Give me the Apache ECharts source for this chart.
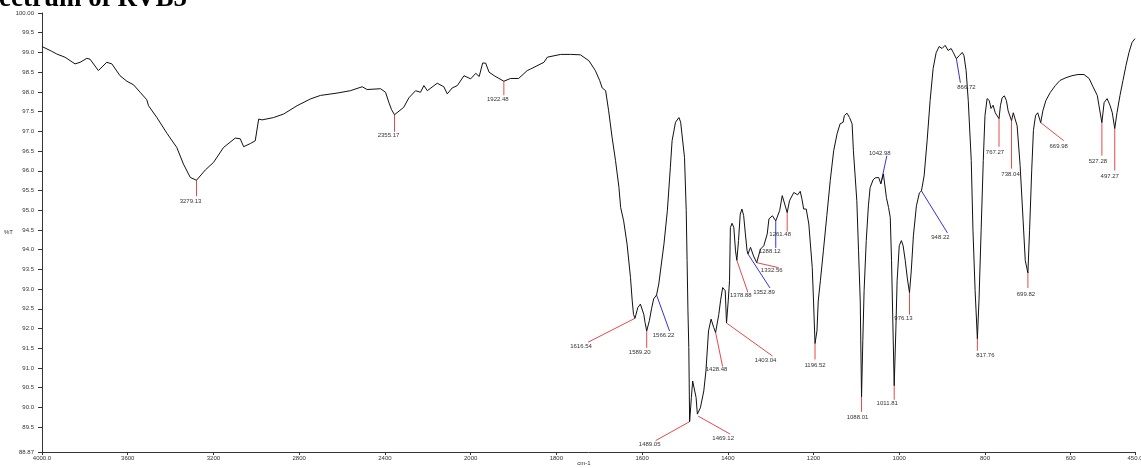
<!DOCTYPE html>
<html>
<head>
<meta charset="utf-8">
<script src="https://cdn.jsdelivr.net/npm/echarts@6/dist/echarts.min.js"></script>
<style>
  html, body { margin: 0; padding: 0; background: #fff; }
  #chart { width: 1141px; height: 468px; }
</style>
</head>
<body>
<div id="chart"></div>
<script>
// FT-IR spectrum of RVB5: wavenumber (cm-1) and transmittance (%T)
const wavenumbers = [
  4000, 3955, 3931, 3893, 3846, 3822, 3791, 3776, 3737, 3698, 3674, 3636, 3604, 3573, 3542, 3511, 3503,
  3464, 3417, 3371, 3340, 3308, 3279.13, 3238, 3200, 3153, 3098, 3075, 3059, 3028, 3020, 3005, 2989,
  2973, 2919, 2872, 2810, 2748, 2701, 2623, 2561, 2506, 2483, 2420, 2397, 2382, 2369, 2355.17, 2312,
  2288, 2257, 2234, 2218, 2202, 2156, 2125, 2109, 2086, 2062, 2031, 2000, 1988, 1980, 1972, 1965, 1957,
  1945, 1922.48, 1907, 1888, 1868, 1860, 1829, 1821, 1790, 1767, 1744, 1724, 1709, 1699, 1693, 1685,
  1678, 1670, 1662, 1654, 1650, 1643, 1635, 1627, 1623, 1620, 1616.54, 1610, 1604, 1600, 1596, 1593,
  1589.20, 1583, 1578, 1573, 1566.22, 1561, 1549, 1541, 1534, 1530, 1522, 1514, 1510, 1507, 1501, 1497,
  1495, 1493, 1491, 1489.05, 1485, 1482, 1478, 1474, 1471, 1469.12, 1464, 1456, 1451, 1445, 1439, 1433,
  1428.48, 1421, 1417, 1412, 1406, 1403.04, 1399, 1396, 1394, 1390, 1386, 1382, 1378.88, 1375, 1371,
  1367, 1363, 1359, 1355, 1352.89, 1347, 1343, 1340, 1332.56, 1327, 1324, 1316, 1308, 1304, 1296, 1292,
  1288.12, 1279, 1273, 1270, 1261.48, 1256, 1246, 1242, 1237, 1231, 1227, 1223, 1217, 1211, 1203, 1200,
  1196.52, 1192, 1189, 1184, 1177, 1169, 1161, 1153, 1145, 1138, 1131, 1128, 1122, 1116, 1110, 1107,
  1099, 1095, 1091, 1088.01, 1085, 1082, 1077, 1072, 1068, 1061, 1056, 1052, 1048, 1042.98, 1037, 1030,
  1025, 1021, 1018, 1015, 1011.81, 1008, 1005, 1000, 995, 991, 986, 981, 976.13, 972, 967, 960, 953,
  948.22, 942, 935, 928, 921, 914, 907, 900, 893, 886, 879, 874, 866.72, 860, 853, 849, 844, 839, 832,
  828, 823, 817.76, 814, 809, 804, 800, 795, 790, 786, 781, 776, 767.27, 764, 760, 755, 750, 746, 738.04,
  734, 730, 725, 718, 711, 706, 699.82, 696, 691, 687, 682, 677, 669.98, 665, 658, 648, 636, 625, 611,
  597, 583, 569, 557, 548, 538, 534, 527.28, 522, 515, 508, 503, 497.27, 492, 485, 478, 471, 464, 457, 450
];
const transmittance = [
  99.15, 99.03, 98.96, 98.88, 98.71, 98.75, 98.85, 98.83, 98.54, 98.75, 98.71, 98.41, 98.27, 98.18, 97.99, 97.80, 97.65,
  97.35, 96.95, 96.59, 96.17, 95.83, 95.76, 96.02, 96.21, 96.59, 96.83, 96.81, 96.61, 96.69, 96.64, 96.76, 97.31,
  97.29, 97.35, 97.44, 97.65, 97.82, 97.91, 97.97, 98.03, 98.13, 98.06, 98.08, 97.99, 97.74, 97.55, 97.42, 97.61,
  97.85, 98.03, 97.99, 98.16, 98.03, 98.22, 98.13, 97.95, 98.10, 98.16, 98.41, 98.33, 98.47, 98.39, 98.73, 98.73, 98.50,
  98.41, 98.27, 98.34, 98.34, 98.54, 98.58, 98.75, 98.88, 98.95, 98.95, 98.94, 98.79, 98.54, 98.29, 98.10, 98.03,
  97.52, 96.85, 96.26, 95.58, 95.07, 94.73, 94.14, 93.29, 92.70, 92.36, 92.26, 92.53, 92.62, 92.60, 92.36, 92.15,
  91.94, 92.20, 92.50, 92.75, 92.85, 93.13, 94.14, 94.99, 96.09, 96.76, 97.23, 97.35, 97.23, 96.93, 96.34, 94.99,
  93.72, 92.45, 91.52, 89.64, 90.25, 90.67, 90.69, 90.25, 89.83, 89.78, 89.99, 90.42, 90.93, 91.94, 92.24, 92.03,
  91.90, 92.36, 92.70, 93.04, 92.96, 92.14, 92.70, 93.21, 94.56, 94.67, 94.56, 93.97, 93.73, 94.23, 94.90,
  95.03, 94.86, 94.40, 93.97, 93.89, 94.06, 94.01, 93.84, 93.67, 93.89, 94.01, 94.10, 94.40, 94.78, 94.86, 94.85,
  94.73, 94.99, 95.37, 95.32, 94.94, 95.24, 95.45, 95.49, 95.39, 95.48, 95.28, 95.03, 95.03, 94.65, 93.55, 92.70,
  91.62, 91.94, 92.70, 93.21, 93.97, 94.86, 95.75, 96.51, 96.94, 97.19, 97.23, 97.40, 97.46, 97.35, 97.19, 96.51,
  95.24, 93.97, 92.70, 90.27, 91.69, 92.96, 94.23, 95.11, 95.57, 95.77, 95.82, 95.77, 95.83, 95.67, 95.92, 95.32,
  95.07, 94.82, 93.72, 92.19, 90.55, 91.94, 93.21, 94.10, 94.23, 94.10, 93.72, 93.26, 92.91, 93.46, 94.35, 95.11, 95.44,
  95.49, 95.87, 96.76, 97.78, 98.59, 98.99, 99.15, 99.10, 99.18, 99.05, 99.10, 99.00, 98.84, 98.92, 99.00, 98.92, 98.54, 97.78, 96.26,
  94.48, 92.96, 91.74, 92.70, 94.48, 96.26, 97.40, 97.83, 97.78, 97.58, 97.66, 97.47, 97.32, 97.65, 97.85, 97.90, 97.78, 97.52, 97.27,
  97.47, 97.52, 97.14, 96.13, 94.73, 93.72, 93.41, 94.48, 96.00, 97.02, 97.40, 97.47, 97.22, 97.52, 97.78, 97.98, 98.16, 98.29, 98.36,
  98.41, 98.44, 98.44, 98.34, 98.13, 97.91, 97.65, 97.22, 97.73, 97.83, 97.65, 97.47, 97.07, 97.47, 97.91, 98.29, 98.67, 99.00, 99.25, 99.35
];

// Peak picks (wavenumber text) and marker colours
const peakLabels = [
  '3279.13', '2355.17', '1922.48', '1616.54', '1589.20', '1566.22', '1489.05', '1469.12', '1428.48',
  '1403.04', '1378.88', '1352.89', '1332.56', '1288.12', '1261.48', '1196.52', '1088.01', '1042.98',
  '1011.81', '976.13', '948.22', '866.72', '817.76', '767.27', '738.04', '699.82', '669.98', '527.28', '497.27'
];
const peakColors = [
  'r', 'r', 'r', 'r', 'r', 'b', 'r', 'r', 'r',
  'r', 'r', 'b', 'r', 'b', 'r', 'r', 'r', 'b',
  'r', 'r', 'b', 'b', 'r', 'r', 'r', 'r', 'r', 'r', 'r'
];

// Axis ticks
const xTickWavenumbers = [4000, 3600, 3200, 2800, 2400, 2000, 1800, 1600, 1400, 1200, 1000, 800, 600, 450];
const yTickValues = [88.87, 89.5, 90.0, 90.5, 91.0, 91.5, 92.0, 92.5, 93.0, 93.5, 94.0, 94.5, 95.0, 95.5,
  96.0, 96.5, 97.0, 97.5, 98.0, 98.5, 99.0, 99.5, 100.0];

// Leader line offset [dx, dy] and text offset from the line end [dx, dy], in pixels
const peakLeaders = [
  [0, 16, -6, 5], [0, 17, -6, 4], [0, 14, -6, 4], [-47, 24, -7, 4], [0, 17, -7, 4], [13, 36, -6, 4],
  [-34, 19, -6, 4], [32, 18, -7, 4], [7, 34, -6, 3], [46, 33, -7, 4], [11, 32, -7, 3], [22, 34, -6, 4],
  [22, 5, -7, 3], [0, 27, -6, 3], [0, 19, -7, 3], [0, 16, 0, 6], [0, 15, -4, 6], [6, -28, -7, -2],
  [0, 14, -7, 4], [0, 22, -6, 4], [26, 42, -7, 4], [4, 24, 6, 5], [0, 12, 8, 5], [0, 28, -4, 6],
  [0, 48, -1, 6], [0, 15, -2, 6], [23, 18, -5, 6], [0, 33, -4, 6], [0, 42, -5, 6]
];

// The abscissa is compressed by 2x above 2000 cm-1: map wavenumber to a linear axis position
function toAxis(w) { return w >= 2000 ? (4000 - w) / 2 : 1000 + (2000 - w); }
function fromAxis(u) { return u <= 1000 ? 4000 - 2 * u : 2000 - (u - 1000); }

const spectrum = wavenumbers.map((w, i) => [toAxis(w), transmittance[i]]);
const peaks = peakLabels.map((txt, i) => {
  const w = parseFloat(txt);
  const idx = wavenumbers.indexOf(w);
  return [toAxis(w), transmittance[idx], i];
});

const RED = '#e44a4a';
const BLUE = '#3434d4';
const labelFont = '6px "Liberation Sans", Arial, sans-serif';

const chart = echarts.init(document.getElementById('chart'), null, { renderer: 'canvas' });
chart.setOption({
  animation: false,
  backgroundColor: '#ffffff',
  grid: { left: 42, right: 6, top: 13, bottom: 16, containLabel: false, outerBoundsMode: 'none' },
  graphic: [{
    type: 'text',
    x: -31, y: 13,
    style: {
      text: 'Spectrum of RVB5',
      font: 'bold 27px "Liberation Serif", "Times New Roman", serif',
      fill: '#000',
      align: 'left',
      verticalAlign: 'bottom'
    }
  }],
  xAxis: {
    type: 'value',
    min: 0,
    max: toAxis(450),
    name: 'cm-1',
    nameLocation: 'middle',
    nameGap: 8,
    nameMoveOverlap: false,
    nameTextStyle: { fontSize: 6, color: '#333', fontFamily: 'Liberation Sans', padding: [0, 9, 0, 0] },
    axisLine: { show: true, lineStyle: { color: '#333', width: 1 } },
    axisTick: { show: true, length: 3, lineStyle: { color: '#333' }, customValues: xTickWavenumbers.map(toAxis) },
    axisLabel: {
      fontSize: 6, color: '#333', fontFamily: 'Liberation Sans', margin: 3,
      customValues: xTickWavenumbers.map(toAxis),
      formatter: v => {
        const w = Math.round(fromAxis(v));
        return (w === 4000 || w === 450) ? w.toFixed(1) : String(w);
      }
    },
    splitLine: { show: false }
  },
  yAxis: {
    type: 'value',
    min: 88.87,
    max: 100,
    name: '%T',
    nameLocation: 'middle',
    nameRotate: 0,
    nameGap: 29,
    nameMoveOverlap: false,
    nameTextStyle: { fontSize: 6, color: '#333', fontFamily: 'Liberation Sans', padding: [10, 0, 0, 0] },
    axisLine: { show: true, lineStyle: { color: '#333', width: 1 } },
    axisTick: { show: true, length: 4, lineStyle: { color: '#333' }, customValues: yTickValues },
    axisLabel: {
      fontSize: 6, color: '#333', fontFamily: 'Liberation Sans', margin: 8,
      customValues: yTickValues,
      formatter: v => (Math.abs(v - 88.87) < 1e-6 ? '88.87' : Math.abs(v - 100) < 1e-6 ? '100.00' : v.toFixed(1))
    },
    splitLine: { show: false }
  },
  series: [
    {
      name: 'RVB5',
      type: 'line',
      data: spectrum,
      showSymbol: false,
      symbol: 'none',
      lineStyle: { color: '#111', width: 1 },
      z: 3
    },
    {
      name: 'peaks',
      type: 'custom',
      data: peaks,
      z: 2,
      renderItem: (params, api) => {
        const p = api.coord([api.value(0), api.value(1)]);
        const i = api.value(2);
        const L = peakLeaders[i];
        const ex = p[0] + L[0], ey = p[1] + L[1];
        return {
          type: 'group',
          children: [
            {
              type: 'line',
              shape: { x1: p[0], y1: p[1], x2: ex, y2: ey },
              style: { stroke: peakColors[i] === 'b' ? BLUE : RED, lineWidth: 1 }
            },
            {
              type: 'text',
              x: ex + L[2], y: ey + L[3],
              style: { text: peakLabels[i], font: labelFont, fill: '#333', align: 'center', verticalAlign: 'middle' }
            }
          ]
        };
      }
    }
  ]
});
</script>
</body>
</html>
